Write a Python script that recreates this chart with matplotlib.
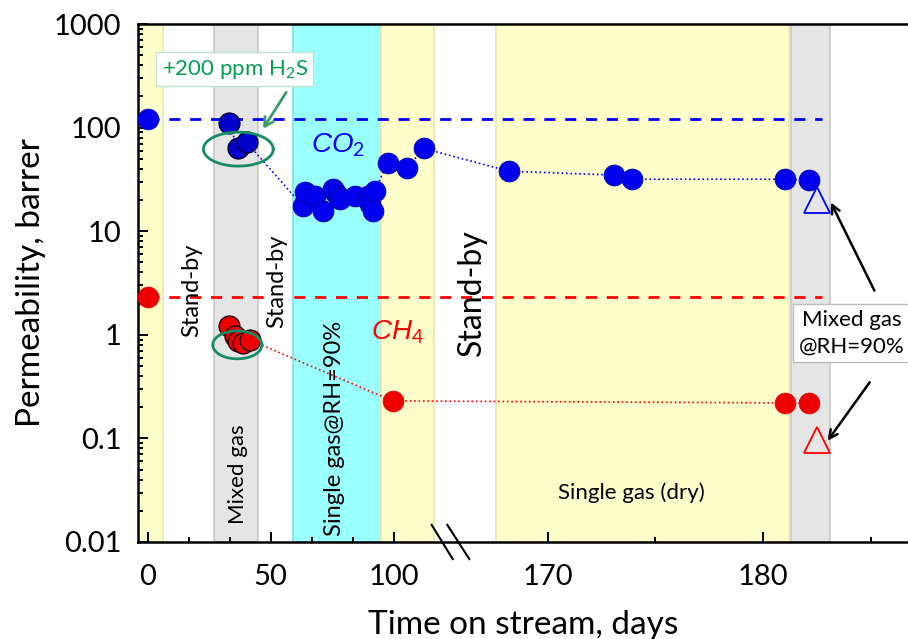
import numpy as np
import matplotlib
matplotlib.use("Agg")
import matplotlib.pyplot as plt

plt.rcParams['font.family'] = ['Lato', 'DejaVu Sans']
plt.rcParams['mathtext.fontset'] = 'custom'
plt.rcParams['mathtext.rm'] = 'Lato'
plt.rcParams['mathtext.it'] = 'Liberation Sans:italic'

# reference (fresh membrane) values, day 0
co2_ref = 122
ch4_ref = 2.3

# CO2 permeability, barrer
co2_mix_days = [32.9, 36.6, 40.2]
co2_mix = [110, 64, 72]
co2_days = [63.0, 63.8, 67.9, 71.1, 75.2, 76.0, 77.2, 78.0, 84.1, 89.4, 90.2, 91.5, 92.3,
            97.6, 105.3, 112.2, 168.2, 173.1, 173.9, 181.0, 182.1]
co2_vals = [17.5, 23.9, 21.9, 15.7, 25.5, 23.9, 21.9, 20.5, 21.9, 21.9, 18.3, 15.7, 24.4,
            46, 40.5, 63, 38, 34.8, 31.8, 31.8, 31]

# CH4 permeability, barrer
ch4_mix_days = [32.9, 35.4, 36.6, 38.6, 41.5]
ch4_mix = [1.21, 0.97, 0.87, 0.83, 0.89]
ch4_days = [99.6, 181.0, 182.1]
ch4_vals = [0.23, 0.22, 0.22]

# mixed gas @RH=90%
wet_day = 182.5
wet_co2 = 20.0
wet_ch4 = 0.097

# stages: (start, end, face, edge)
stages = [(-4, 6.1, '#ffffcc', '#e8e8b0'),
          (26.8, 44.7, '#e5e5e5', '#c8c8c8'),
          (58.9, 94.7, '#99ffff', '#80dede'),
          (94.7, 116.3, '#ffffcc', '#e8e8b0'),
          (167.6, 181.2, '#ffffcc', '#e8e8b0'),
          (181.3, 183.1, '#e5e5e5', '#c8c8c8')]

x_major = [0, 50, 100, 170, 180]
x_minor = [16.67, 33.33, 66.67, 83.33, 175, 185]
y_ticks = [0.01, 0.1, 1, 10, 100, 1000]
y_labels = ['0.01', '0.1', '1', '10', '100', '1000']

# broken time axis: two linear pieces joined by a squeezed gap
knot_d = [-20, 118, 166, 200]
knot_p = [98.8, 438.3, 461.6, 1196.0]


def fwd(d):
    return np.interp(d, knot_d, knot_p)


def inv(p):
    return np.interp(p, knot_p, knot_d)


fig = plt.figure(figsize=(9.08, 6.39), dpi=100)
ax = fig.add_axes([0.152, 0.1518, 0.848, 0.8106])
ax.set_xscale('function', functions=(fwd, inv))
ax.set_yscale('log')
ax.set_xlim(-4, 186.7)
ax.set_ylim(0.01, 1000)

for s in stages:
    ax.axvspan(s[0], s[1], facecolor=s[2], edgecolor=s[3], lw=1.2, zorder=0)

ax.plot([0, 182.7], [co2_ref, co2_ref], '--', color='#0000ff', lw=2, dashes=(4, 3.5), zorder=2)
ax.plot([0, 182.7], [ch4_ref, ch4_ref], '--', color='#ff0000', lw=2, dashes=(4, 3.5), zorder=2)

ax.plot(co2_mix_days + co2_days, co2_mix + co2_vals, ':', color='#0000ff', lw=1.2, zorder=3)
ax.plot(ch4_mix_days[-1:] + ch4_days, ch4_mix[-1:] + ch4_vals, ':', color='#ff0000', lw=1.2, zorder=3)

ms = 15
ax.plot([0], [co2_ref], 'o', ms=ms, color='#0000ee', mec='#0000cc', mew=0.5, zorder=4)
ax.plot([0], [ch4_ref], 'o', ms=ms, color='#ee0000', mec='#dd0000', mew=0.5, zorder=4)
ax.plot(co2_mix_days, co2_mix, 'o', ms=ms, color='#0000cc', mec='#000033', mew=1, ls='none', zorder=4)
ax.plot(co2_days, co2_vals, 'o', ms=ms, color='#0000ee', mec='#0000aa', mew=0.6, ls='none', zorder=4)
ax.plot(ch4_mix_days, ch4_mix, 'o', ms=ms, color='#ee0000', mec='#220000', mew=1, ls='none', zorder=4)
ax.plot(ch4_days, ch4_vals, 'o', ms=ms, color='#ee0000', mec='#dd0000', mew=0.5, ls='none', zorder=4)
ax.plot([wet_day], [wet_co2], '^', ms=19, mfc='none', mec='#0000ff', mew=1.3, zorder=4)
ax.plot([wet_day], [wet_ch4], '^', ms=19, mfc='none', mec='#ff0000', mew=1.3, zorder=4)

# ellipses around the H2S points (log scale -> build in decades)
t = np.linspace(0, 2 * np.pi, 200)
for cx, cy, a, b in [(36.8, 62, 14.2, 0.164), (36.4, 0.80, 10.0, 0.135)]:
    ax.plot(cx + a * np.cos(t), 10 ** (np.log10(cy) + b * np.sin(t)), color='#178a66', lw=2, zorder=5)

ax.text(35.4, 368, r'+200 ppm H$_\mathregular{2}$S', color='#00a050', fontsize=16, ha='center', va='center',
        bbox=dict(boxstyle='square,pad=0.25', fc='white', ec='#bfe3cf', lw=1), zorder=6)
ax.annotate('', xy=(46.3, 93), xytext=(56.9, 231),
            arrowprops=dict(arrowstyle='->,head_length=0.6,head_width=0.35', color='#3a9a6a', lw=2), zorder=6)

ax.text(77.5, 68, r'$CO_2$', color='#0000ff', fontsize=20, ha='center', va='center', zorder=6)
ax.text(101.6, 1.06, r'$CH_4$', color='#ff0000', fontsize=20, ha='center', va='center', zorder=6)

ax.text(17.9, 2.7, 'Stand-by', rotation=90, fontsize=17, ha='center', va='center', zorder=6)
ax.text(52.4, 3.3, 'Stand-by', rotation=90, fontsize=17, ha='center', va='center', zorder=6,
        bbox=dict(boxstyle='square,pad=0.1', fc='white', ec='none'))
ax.text(166.5, 2.53, 'Stand-by', rotation=90, fontsize=23, ha='center', va='center', zorder=6)
ax.text(36.6, 0.0453, 'Mixed gas', rotation=90, fontsize=16, ha='center', va='center', zorder=6)
ax.text(76.0, 0.126, 'Single gas@RH=90%', rotation=90, fontsize=17, ha='center', va='center', zorder=6)
ax.text(173.9, 0.0297, 'Single gas (dry)', fontsize=16, ha='center', va='center', zorder=6)

ax.text(184.1, 1.04, 'Mixed gas\n@RH=90%', fontsize=16, ha='center', va='center', linespacing=1.4, zorder=6,
        bbox=dict(boxstyle='square,pad=0.25', fc='white', ec='#bbbbbb', lw=1))
ax.annotate('', xy=(183.07, 20), xytext=(185.2, 2.53),
            arrowprops=dict(arrowstyle='->,head_length=0.6,head_width=0.3', color='black', lw=1.8), zorder=6)
ax.annotate('', xy=(182.9, 0.0903), xytext=(185.0, 0.366),
            arrowprops=dict(arrowstyle='->,head_length=0.6,head_width=0.3', color='black', lw=1.8), zorder=6)

# axis break marks
for x0, x1 in [(0.3814, 0.4087), (0.4017, 0.4303)]:
    ax.plot([x0, x1], [0.033, -0.033], color='black', lw=1.5, transform=ax.transAxes, clip_on=False, zorder=7)

ax.set_xticks(x_major)
ax.set_xticks(x_minor, minor=True)
ax.set_xticklabels([str(v) for v in x_major])
ax.set_yticks(y_ticks)
ax.set_yticklabels(y_labels)
ax.yaxis.set_minor_locator(matplotlib.ticker.LogLocator(base=10, subs=np.arange(2, 10)))
ax.yaxis.set_minor_formatter(matplotlib.ticker.NullFormatter())
ax.tick_params(which='both', direction='in', width=1.4, labelsize=21)
ax.tick_params(which='major', length=7, pad=12)
ax.tick_params(which='minor', length=3.5)
ax.tick_params(axis='x', which='major', pad=16)

for side in ['left', 'bottom', 'top']:
    ax.spines[side].set_linewidth(1.8)
ax.spines['right'].set_visible(False)

ax.set_xlabel('Time on stream, days', fontsize=24, labelpad=14)
ax.set_ylabel('Permeability, barrer', fontsize=24, labelpad=6)

fig.savefig('out.png', dpi=100)
